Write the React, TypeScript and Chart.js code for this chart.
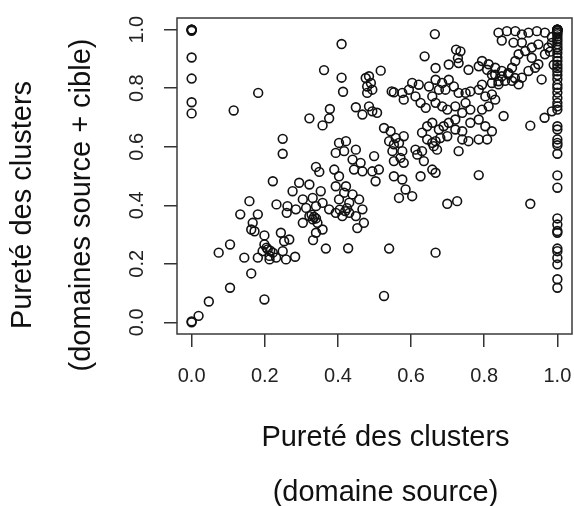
import { useEffect, useRef } from "react";
import { Chart, registerables } from "chart.js";

Chart.register(...registerables);

const xTickValues = [0, 0.2, 0.4, 0.6, 0.8, 1.0];
const yTickValues = [0, 0.2, 0.4, 0.6, 0.8, 1.0];
const xTitleLines = ["Pureté des clusters", "(domaine source)"];
const yTitleLines = ["Pureté des clusters", "(domaines source + cible)"];

// Pureté des clusters (domaine source)
const sourcePurity = [
  // x = 0 column
  0, 0, 0, 0, 0, 0, 0, 0, 0, 0,
  // low values
  0.019, 0.047, 0.105, 0.199, 0.163, 0.074, 0.105, 0.144, 0.181, 0.213,
  0.199, 0.208, 0.222, 0.194, 0.213, 0.231, 0.244, 0.253, 0.267, 0.249, 0.258, 0.283, 0.205, 0.215,
  0.158, 0.133, 0.181, 0.167, 0.163, 0.172, 0.199, 0.222, 0.232, 0.262, 0.26, 0.285,
  0.294, 0.322, 0.276, 0.304, 0.331, 0.313, 0.34, 0.322, 0.331, 0.344, 0.304, 0.358, 0.34, 0.332, 0.367, 0.353, 0.358, 0.376, 0.335, 0.34, 0.328,
  0.431, 0.449, 0.467, 0.394, 0.453, 0.412, 0.471, 0.428, 0.42, 0.425, 0.405,
  // upper left
  0.115, 0.182, 0.249, 0.249, 0.41, 0.362, 0.41, 0.414, 0.378, 0.376, 0.358, 0.322, 0.449, 0.476, 0.48, 0.48, 0.34, 0.349,
  // middle
  0.467, 0.494, 0.526, 0.544, 0.558, 0.58, 0.54, 0.553, 0.567, 0.576,
  0.549, 0.553, 0.571, 0.58, 0.612, 0.617, 0.63, 0.63, 0.644, 0.635,
  0.626, 0.576, 0.553, 0.585, 0.567, 0.603, 0.403, 0.422, 0.394, 0.417,
  0.449, 0.44, 0.462, 0.444, 0.467, 0.499, 0.494, 0.512, 0.503, 0.39,
  0.403, 0.394, 0.422, 0.417, 0.44, 0.458, 0.431, 0.403,
  // upper middle
  0.665, 0.637, 0.517, 0.547, 0.553, 0.723, 0.735, 0.728, 0.485, 0.49, 0.494, 0.485, 0.507,
  0.667, 0.703, 0.73, 0.757, 0.785, 0.808, 0.83, 0.821, 0.794, 0.785,
  0.762, 0.749, 0.73, 0.717, 0.703, 0.694, 0.685, 0.667, 0.676, 0.649,
  0.621, 0.603, 0.594, 0.576, 0.58, 0.612, 0.626, 0.64, 0.658, 0.667,
  0.685, 0.699, 0.721, 0.749, 0.762, 0.74, 0.721, 0.703, 0.689, 0.676,
  0.658, 0.644, 0.658, 0.68, 0.699, 0.721, 0.74, 0.762, 0.785, 0.803,
  0.821, 0.808, 0.785, 0.757, 0.74, 0.73, 0.83, 0.803, 0.812, 0.794,
  0.671, 0.662, 0.667, 0.658, 0.667,
  // lower right
  0.785, 0.699, 0.726, 0.926, 0.54, 0.667, 0.526,
  // upper right
  0.839, 0.862, 0.848, 0.885, 0.903, 0.921, 0.944, 0.966, 0.957, 0.948,
  0.93, 0.912, 0.894, 0.885, 0.876, 0.866, 0.848, 0.83, 0.812, 0.794,
  0.821, 0.839, 0.857, 0.876, 0.894, 0.903, 0.921, 0.939, 0.966, 0.975,
  0.948, 0.93, 0.903, 0.88, 0.853, 0.985, 0.985, 0.98, 0.99, 0.926, 0.965, 0.985,
  0.848, 0.866, 0.839, 0.884, 0.821,
  // x = 1 column
  1, 1, 1, 1, 1, 1, 1, 1, 1, 1, 1, 1, 1, 1, 1, 1, 1, 1, 1, 1, 1, 1, 1, 1,
  1, 1, 1, 1, 1, 1, 1, 1, 1, 1, 1, 1, 1, 1, 1, 1, 1, 1, 1, 1, 1, 1, 1, 1,
];

// Pureté des clusters (domaines source + cible)
const combinedPurity = [
  // x = 0 column
  1, 1, 1, 0.996, 0.905, 0.833, 0.752, 0.714, 0, 0.003,
  // low values
  0.022, 0.071, 0.118, 0.078, 0.167, 0.238, 0.266, 0.221, 0.221, 0.215,
  0.266, 0.249, 0.238, 0.243, 0.227, 0.221, 0.306, 0.277, 0.283, 0.243, 0.215, 0.224, 0.255, 0.245,
  0.414, 0.369, 0.369, 0.34, 0.317, 0.311, 0.297, 0.482, 0.403, 0.397, 0.374, 0.386,
  0.477, 0.471, 0.448, 0.42, 0.425, 0.391, 0.397, 0.363, 0.352, 0.34, 0.34, 0.317, 0.306, 0.281, 0.252, 0.448, 0.408, 0.386, 0.36, 0.355, 0.368,
  0.374, 0.363, 0.386, 0.374, 0.322, 0.363, 0.34, 0.253, 0.38, 0.39, 0.385,
  // upper left
  0.724, 0.784, 0.627, 0.576, 0.951, 0.862, 0.836, 0.788, 0.729, 0.697, 0.673, 0.697, 0.735, 0.835, 0.806, 0.784, 0.531, 0.514,
  // middle
  0.71, 0.721, 0.664, 0.653, 0.63, 0.636, 0.619, 0.608, 0.613, 0.585,
  0.585, 0.551, 0.562, 0.545, 0.59, 0.573, 0.585, 0.648, 0.67, 0.551,
  0.499, 0.488, 0.499, 0.454, 0.425, 0.431, 0.613, 0.619, 0.579, 0.585,
  0.59, 0.556, 0.545, 0.522, 0.516, 0.568, 0.516, 0.522, 0.482, 0.522,
  0.499, 0.465, 0.465, 0.443, 0.437, 0.42, 0.409, 0.42,
  // upper middle
  0.985, 0.909, 0.86, 0.789, 0.786, 0.932, 0.926, 0.903, 0.841, 0.818, 0.795, 0.738, 0.716,
  0.869, 0.881, 0.886, 0.863, 0.875, 0.863, 0.846, 0.818, 0.812, 0.795,
  0.789, 0.784, 0.784, 0.806, 0.829, 0.795, 0.818, 0.829, 0.795, 0.806,
  0.812, 0.818, 0.795, 0.784, 0.761, 0.772, 0.75, 0.733, 0.772, 0.75,
  0.738, 0.727, 0.738, 0.75, 0.727, 0.716, 0.693, 0.682, 0.67, 0.659,
  0.682, 0.625, 0.613, 0.63, 0.636, 0.659, 0.653, 0.682, 0.693, 0.67,
  0.653, 0.625, 0.625, 0.619, 0.625, 0.585, 0.761, 0.772, 0.738, 0.727,
  0.59, 0.602, 0.619, 0.522, 0.511,
  // lower right
  0.503, 0.405, 0.414, 0.405, 0.252, 0.238, 0.09,
  // upper right
  0.99, 0.995, 0.963, 0.995, 0.984, 0.99, 0.995, 0.99, 0.83, 0.882,
  0.904, 0.927, 0.916, 0.893, 0.87, 0.847, 0.859, 0.87, 0.882, 0.893,
  0.779, 0.813, 0.825, 0.825, 0.813, 0.836, 0.859, 0.87, 0.916, 0.939,
  0.95, 0.939, 0.956, 0.956, 0.705, 0.975, 0.955, 0.925, 0.88, 0.672, 0.699, 0.721,
  0.841, 0.852, 0.824, 0.835, 0.846,
  // x = 1 column
  1, 1, 1, 1, 1, 0.998, 0.995, 0.99, 0.985, 0.977, 0.968, 0.96, 0.95, 0.94, 0.932, 0.92, 0.905, 0.893, 0.88, 0.869, 0.858, 0.845, 0.831, 0.812,
  0.801, 0.785, 0.767, 0.75, 0.738, 0.727, 0.67, 0.659, 0.625, 0.613, 0.605, 0.576, 0.502, 0.46, 0.355, 0.334, 0.312, 0.306, 0.252, 0.243, 0.22, 0.198, 0.147, 0.118,
];

const FONT = '"Liberation Sans", Arial, Helvetica, sans-serif';

// Plot region of the original figure
const AREA = { left: 177, top: 18, right: 572, bottom: 334 };

const framePlugin = {
  id: "rFrame",
  afterLayout(chart: any) {
    const a = chart.chartArea;
    a.left = AREA.left;
    a.top = AREA.top;
    a.right = AREA.right;
    a.bottom = AREA.bottom;
    a.width = AREA.right - AREA.left;
    a.height = AREA.bottom - AREA.top;
    const x = chart.scales.x;
    x.left = AREA.left;
    x.right = AREA.right;
    x.width = AREA.right - AREA.left;
    x.top = AREA.bottom;
    x.bottom = chart.height;
    x.configure();
    const y = chart.scales.y;
    y.top = AREA.top;
    y.bottom = AREA.bottom;
    y.height = AREA.bottom - AREA.top;
    y.left = 0;
    y.right = AREA.left;
    y.configure();
  },
  afterDraw(chart: any) {
    const { ctx, chartArea: a, scales } = chart;
    ctx.save();
    ctx.strokeStyle = "#3a3a3a";
    ctx.lineWidth = 1.5;
    ctx.strokeRect(a.left, a.top, a.right - a.left, a.bottom - a.top);

    ctx.fillStyle = "#222";
    ctx.font = `20px ${FONT}`;
    ctx.textAlign = "center";
    ctx.textBaseline = "middle";
    for (const v of yTickValues) {
      const py = scales.y.getPixelForValue(v);
      ctx.save();
      ctx.translate(a.left - 40, py);
      ctx.rotate(-Math.PI / 2);
      ctx.fillText(v.toFixed(1), 0, 0);
      ctx.restore();
    }

    ctx.fillStyle = "#111";
    ctx.font = `29px ${FONT}`;
    const cx = (a.left + a.right) / 2 + 11;
    ctx.fillText(xTitleLines[0], cx, a.bottom + 104);
    ctx.fillText(xTitleLines[1], cx, a.bottom + 159);

    const cy = (a.top + a.bottom) / 2 + 29;
    yTitleLines.forEach((line, i) => {
      ctx.save();
      ctx.translate(a.left - 154 + i * 59, cy);
      ctx.rotate(-Math.PI / 2);
      ctx.fillText(line, 0, 0);
      ctx.restore();
    });
    ctx.restore();
  },
};

export default function App() {
  const ref = useRef<HTMLCanvasElement | null>(null);

  useEffect(() => {
    if (!ref.current) return;
    const n = Math.min(sourcePurity.length, combinedPurity.length);
    const points = sourcePurity.slice(0, n).map((x, i) => ({ x, y: combinedPurity[i] }));
    const chart = new Chart(ref.current, {
      type: "scatter",
      data: {
        datasets: [
          {
            data: points,
            pointStyle: "circle",
            pointRadius: 4.4,
            pointBorderWidth: 1.6,
            pointBorderColor: "#111",
            pointBackgroundColor: "rgba(0,0,0,0)",
          },
        ],
      },
      options: {
        animation: false,
        responsive: false,
        devicePixelRatio: 1,
        layout: { padding: { left: 0, top: 18, right: 2, bottom: 0 } },
        plugins: { legend: { display: false }, tooltip: { enabled: false } },
        scales: {
          x: {
            type: "linear",
            min: -0.04,
            max: 1.04,
            afterFit: (s: any) => {
              s.height = 172;
              s.paddingLeft = 0;
              s.paddingRight = 0;
            },
            afterBuildTicks: (s: any) => {
              s.ticks = xTickValues.map((v) => ({ value: v }));
            },
            border: { display: false },
            grid: {
              display: true,
              drawOnChartArea: false,
              drawTicks: true,
              tickLength: 13,
              color: "#333",
              lineWidth: 1.5,
            },
            ticks: {
              padding: 17,
              color: "#222",
              font: { family: FONT, size: 20 },
              maxRotation: 0,
              autoSkip: false,
              callback: (v: any) => Number(v).toFixed(1),
            },
          },
          y: {
            type: "linear",
            min: -0.04,
            max: 1.04,
            afterFit: (s: any) => {
              s.width = 177;
              s.paddingTop = 0;
              s.paddingBottom = 0;
            },
            afterBuildTicks: (s: any) => {
              s.ticks = yTickValues.map((v) => ({ value: v }));
            },
            border: { display: false },
            grid: {
              display: true,
              drawOnChartArea: false,
              drawTicks: true,
              tickLength: 13,
              color: "#333",
              lineWidth: 1.5,
            },
            ticks: { display: false },
          },
        },
      },
      plugins: [framePlugin],
    });
    return () => chart.destroy();
  }, []);

  return (
    <div style={{ position: "fixed", left: 0, top: 0, width: 574, height: 506, background: "#fff" }}>
      <canvas ref={ref} width={574} height={506} style={{ width: 574, height: 506 }} />
    </div>
  );
}
